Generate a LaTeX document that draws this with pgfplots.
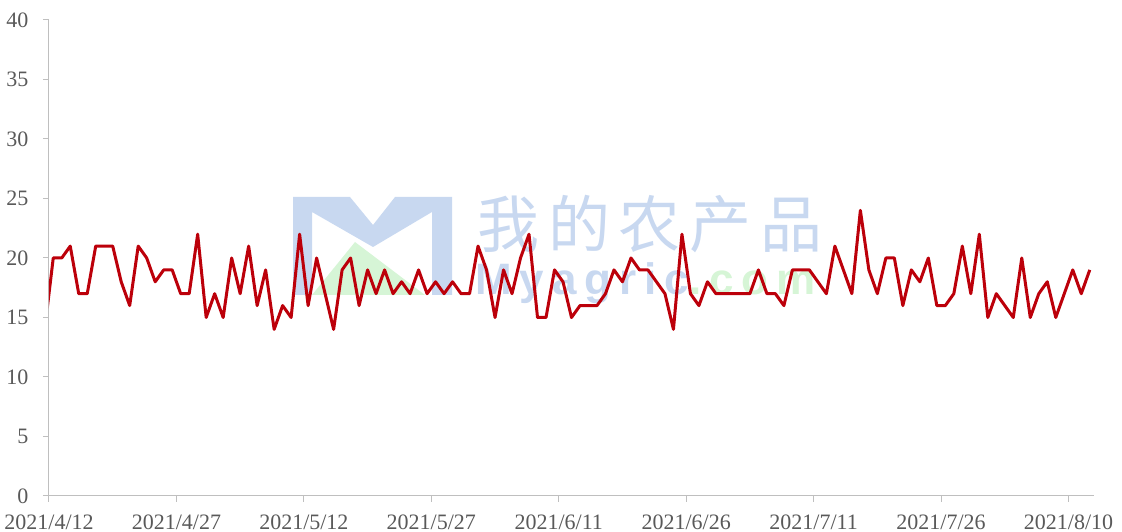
\documentclass[border=0pt]{standalone}
\usepackage{fontspec}
\setmainfont{Liberation Serif}
\newfontfamily\cjk{Noto Sans CJK SC}
\newfontfamily\wmsans{Liberation Sans}
\usepackage{pgfplots}
\pgfplotsset{compat=1.18}
\definecolor{linered}{RGB}{188,0,10}
\definecolor{axgray}{RGB}{191,191,191}
\definecolor{txtgray}{RGB}{89,89,89}
\definecolor{wmblue}{RGB}{200,216,240}
\definecolor{wmgreen}{RGB}{214,245,214}
\pgfplotstableread{
x y
-0.5 14
0.5 20
1.5 20
2.5 21
3.5 17
4.5 17
5.5 21
6.5 21
7.5 21
8.5 18
9.5 16
10.5 21
11.5 20
12.5 18
13.5 19
14.5 19
15.5 17
16.5 17
17.5 22
18.5 15
19.5 17
20.5 15
21.5 20
22.5 17
23.5 21
24.5 16
25.5 19
26.5 14
27.5 16
28.5 15
29.5 22
30.5 16
31.5 20
32.5 17
33.5 14
34.5 19
35.5 20
36.5 16
37.5 19
38.5 17
39.5 19
40.5 17
41.5 18
42.5 17
43.5 19
44.5 17
45.5 18
46.5 17
47.5 18
48.5 17
49.5 17
50.5 21
51.5 19
52.5 15
53.5 19
54.5 17
55.5 20
56.5 22
57.5 15
58.5 15
59.5 19
60.5 18
61.5 15
62.5 16
63.5 16
64.5 16
65.5 17
66.5 19
67.5 18
68.5 20
69.5 19
70.5 19
71.5 18
72.5 17
73.5 14
74.5 22
75.5 17
76.5 16
77.5 18
78.5 17
79.5 17
80.5 17
81.5 17
82.5 17
83.5 19
84.5 17
85.5 17
86.5 16
87.5 19
88.5 19
89.5 19
90.5 18
91.5 17
92.5 21
93.5 19
94.5 17
95.5 24
96.5 19
97.5 17
98.5 20
99.5 20
100.5 16
101.5 19
102.5 18
103.5 20
104.5 16
105.5 16
106.5 17
107.5 21
108.5 17
109.5 22
110.5 15
111.5 17
112.5 16
113.5 15
114.5 20
115.5 15
116.5 17
117.5 18
118.5 15
119.5 17
120.5 19
121.5 17
122.5 19
}\datatable
\begin{document}
\begin{tikzpicture}[x=1pt,y=1pt]
% watermark (behind the chart)
\fill[wmgreen] (263,201) -- (306,254) -- (376,201) -- cycle;
\fill[wmblue] (244,201) -- (244,299) -- (301,299) -- (324,271) -- (346,299) -- (403,299) -- (403,201) -- (383,201) -- (383,284) -- (324,249) -- (263,284) -- (263,201) -- cycle;
\node[text=wmblue, inner sep=0pt] at (601,272) {\cjk\fontsize{62}{62}\selectfont\addfontfeature{LetterSpace=14}我的农产品};
\node[anchor=base west, inner sep=0pt] at (426,201) {\wmsans\bfseries\fontsize{44}{44}\selectfont\addfontfeature{LetterSpace=18}\textcolor{wmblue}{Myagric}\textcolor{wmgreen}{.com}};
\begin{axis}[
  at={(0,0)}, anchor=south west,
  scale only axis, width=1045pt, height=476pt,
  xmin=0, xmax=123, ymin=0, ymax=40,
  axis lines*=left,
  axis line style={axgray, line width=1pt, -},
  xtick={0,15,30,45,60,75,90,105,120},
  xticklabels={2021/4/12,2021/4/27,2021/5/12,2021/5/27,2021/6/11,2021/6/26,2021/7/11,2021/7/26,2021/8/10},
  ytick={0,5,10,15,20,25,30,35,40},
  tick style={axgray, line width=1pt},
  tick align=outside, major tick length=6pt,
  ticklabel style={font=\fontsize{22}{24}\selectfont, text=txtgray},
  /pgf/number format/assume math mode=true,
  xticklabel style={yshift=-9pt},
  yticklabel style={xshift=-11pt},
]
\addplot[linered, line width=3pt, line join=round, mark=none] table[x=x, y=y] {\datatable};
\coordinate (O) at (rel axis cs:0,0);
\end{axis}
\pgfresetboundingbox
\path[use as bounding box] (O) ++(-49pt,-36pt) rectangle ++(1122pt,532pt);
\end{tikzpicture}
\end{document}
